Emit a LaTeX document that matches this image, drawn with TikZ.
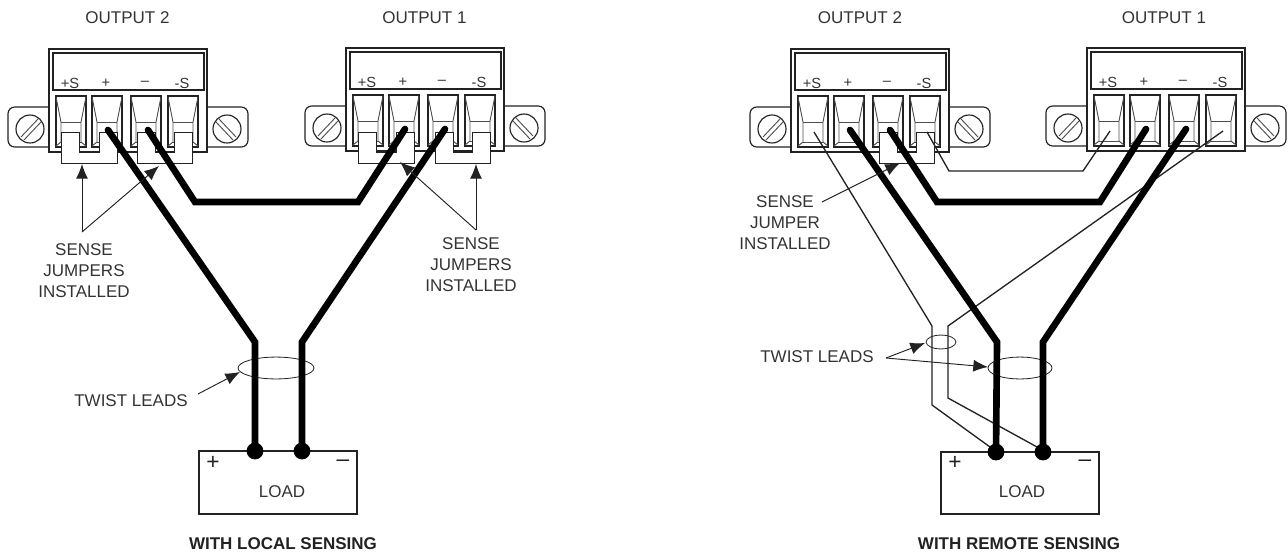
\documentclass[tikz,border=0pt]{standalone}
\usepackage{fontspec}
\usepackage{xcolor}
\setmainfont{Liberation Sans}
\usetikzlibrary{arrows.meta}
\definecolor{inkgray}{HTML}{222222}
\definecolor{textgray}{HTML}{333333}
\tikzset{
    thinwire/.style={line width=1pt,color=inkgray},
    powerwire/.style={line width=5pt,black,line cap=round},
    housing/.style={line width=0.85pt,color=inkgray},
    innerline/.style={line width=0.7pt,color=inkgray!80},
    pointer/.style={line width=0.7pt,color=inkgray,-{Latex[length=11pt,width=9pt]}},
    tieloop/.style={line width=0.6pt,color=inkgray},
    lbl/.style={font=\fontsize{12.75}{15.75}\selectfont,text=textgray,inner sep=0pt,align=center},
    pinlbl/.style={font=\fontsize{11}{13}\selectfont,text=textgray,inner sep=0pt},
    signlbl/.style={font=\fontsize{17}{17}\selectfont,text=inkgray,inner sep=0pt},
    titlelbl/.style={font=\bfseries\fontsize{12.75}{15}\selectfont,text=inkgray,inner sep=0pt},
    jumperbar/.style={line width=0.7pt,color=inkgray,fill=white}
}
\newcommand{\terminalblock}[5]{
    \begin{scope}[shift={(#2,#3)}]
        \draw[housing,rounded corners=5pt] (49,107) -- (8,107) -- (8,147) -- (49,147);
        \draw[housing,rounded corners=5pt] (207,107) -- (248,107) -- (248,147) -- (207,147);
        \draw[housing,line width=1.1pt] (49,49) rectangle (207,152);
        \draw[housing,line width=1.1pt] (53,53) rectangle (204,90);
        \draw[housing] (30,129) circle[radius=10.5pt];
        \draw[housing] (227,129) circle[radius=10.5pt];
        \draw[innerline] (21,137) -- (38,119) (24,140) -- (41,122);
        \draw[innerline] (219,119) -- (236,137) (216,122) -- (233,140);
        \foreach \px/\pin in {56/{+S},92/{+},131/{--},168/{-S}}{
            \draw[housing] (\px,96) rectangle ++(30,51);
            \draw[innerline] (\px,97) -- ++(5,25) -- ++(0,20) -- ++(-5,4);
            \draw[innerline] (\px+30,97) -- ++(-5,25) -- ++(0,20) -- ++(5,4);
            \draw[innerline] (\px+5,122) -- ++(20,0) (\px+5,142) -- ++(20,0);
            \node[pinlbl] (#1pin\px) at (\px+14,83) {\pin};
        }
        \coordinate (#1ps) at (72,132);
        \coordinate (#1p) at (108,130);
        \coordinate (#1m) at (148,130);
        \coordinate (#1ms) at (185,132);
    \end{scope}
    \node[lbl] (#1title) at (#5,18) {OUTPUT #4};
}
\newcommand{\jumperleft}[2]{
    \draw[jumperbar,shift={(#1,#2)}] (61,132) -- (79,132) -- (79,152) -- (99,152) -- (99,132) -- (117,132) -- (117,163) -- (61,163) -- cycle;
}
\newcommand{\jumperright}[2]{
    \draw[jumperbar,shift={(#1,#2)}] (137,132) -- (155,132) -- (155,152) -- (174,152) -- (174,132) -- (192,132) -- (192,163) -- (137,163) -- cycle;
}
\begin{document}
\begin{tikzpicture}[x=0.75pt,y=-0.75pt]
    \useasboundingbox (0,0) rectangle (1288,554);

    \terminalblock{la}{0}{0}{2}{127.5}
    \terminalblock{lb}{297}{-1}{1}{424.5}
    \terminalblock{ra}{742}{0}{2}{860}
    \terminalblock{rb}{1038}{-1}{1}{1164}

    \jumperleft{0}{0}
    \jumperright{0}{0}
    \jumperleft{297}{0}
    \jumperright{298}{0}
    \jumperright{742}{0}

    \coordinate (lkp) at (255,342);
    \coordinate (lkm) at (302,342);
    \coordinate (la1) at (195,202);
    \coordinate (la2) at (358,202);
    \coordinate (rkp) at (997,342);
    \coordinate (rkm) at (1043,342);
    \coordinate (ra1) at (937,202);
    \coordinate (ra2) at (1100,202);

    \draw[housing] (199,451) rectangle (357,514);
    \draw[housing] (941,452) rectangle (1099,514);
    \node[signlbl] (lplus) at (213,463) {+};
    \node[signlbl] (lminus) at (343,463) {--};
    \node[signlbl] (rplus) at (955,463) {+};
    \node[signlbl] (rminus) at (1085,463) {--};
    \node[lbl] (lload) at (282,492) {LOAD};
    \node[lbl] (rload) at (1022,492) {LOAD};
    \coordinate (lpost1) at (255,451);
    \coordinate (lpost2) at (302,451);
    \coordinate (rpost1) at (996,452);
    \coordinate (rpost2) at (1043,452);

    \draw[tieloop] (276,368) ellipse[x radius=28.5pt,y radius=8.2pt];
    \draw[tieloop] (941,342) ellipse[x radius=11.2pt,y radius=5.2pt];
    \draw[tieloop] (1020,368) ellipse[x radius=24pt,y radius=8.2pt];

    \draw[thinwire] (raps) -- (932,326) -- (932,405) -- (990,447);
    \draw[thinwire] (rbms) -- (948,326) -- (948,398) -- (1037,447);
    \draw[thinwire] (rams) -- (949,171) -- (1083,171) -- (rbps);

    \draw[powerwire] (lap) -- (lkp) -- (lpost1);
    \draw[powerwire] (lbm) -- (lkm) -- (lpost2);
    \draw[powerwire] (lam) -- (la1) -- (la2) -- (lbp);
    \draw[powerwire] (rap) -- (rkp) -- (rpost1);
    \draw[powerwire] (rbm) -- (rkm) -- (rpost2);
    \draw[powerwire] (ram) -- (ra1) -- (ra2) -- (rbp);

    \fill (lpost1) circle[radius=6.3pt];
    \fill (lpost2) circle[radius=6.3pt];
    \fill (rpost1) circle[radius=6.3pt];
    \fill (rpost2) circle[radius=6.3pt];

    \node[lbl] (lsense) at (84,271) {SENSE\\JUMPERS\\INSTALLED};
    \node[lbl] (msense) at (471,265) {SENSE\\JUMPERS\\INSTALLED};
    \node[lbl] (rsense) at (785,223) {SENSE\\JUMPER\\INSTALLED};
    \node[lbl] (ltwist) at (131,401) {TWIST LEADS};
    \node[lbl] (rtwist) at (817,357) {TWIST LEADS};
    \node[titlelbl] (ltitle) at (283,544) {WITH LOCAL SENSING};
    \node[titlelbl] (rtitle) at (1019,544) {WITH REMOTE SENSING};

    \coordinate (lfork) at (82,232);
    \coordinate (mfork) at (476,230);
    \draw[pointer] (lfork) -- (82,164);
    \draw[pointer] (lfork) -- (159,166);
    \draw[pointer] (mfork) -- (476,164);
    \draw[pointer] (mfork) -- (400,162);
    \draw[pointer] (822,202) -- (900,163);
    \draw[pointer] (198,394) -- (240,372);
    \coordinate (rfork) at (886,358);
    \draw[pointer] (rfork) -- (925,343);
    \draw[pointer] (rfork) -- (988,367);
\end{tikzpicture}
\end{document}
